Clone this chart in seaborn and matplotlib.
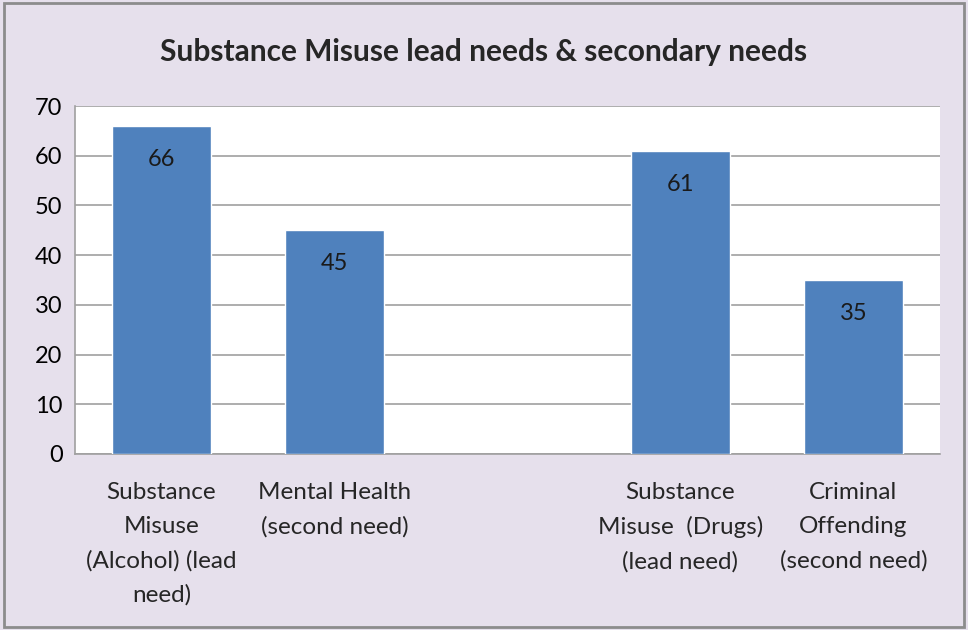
import pandas as pd
import numpy as np
from matplotlib import pyplot as plt
from matplotlib.patches import Rectangle
import seaborn as sns

categories = ['Substance\nMisuse\n(Alcohol) (lead\nneed)',
              'Mental Health\n(second need)',
              'Substance\nMisuse  (Drugs)\n(lead need)',
              'Criminal\nOffending\n(second need)']
values = [66, 45, 61, 35]
# an empty slot sits between the two groups
order = [categories[0], categories[1], ' ', categories[2], categories[3]]

sns.set_style('white')
plt.rcParams['font.family'] = ['Lato', 'DejaVu Sans']

df = pd.DataFrame({'need': categories, 'count': values})

fig = plt.figure(figsize=(9.68, 6.3), dpi=100)
fig.patch.set_facecolor('#E6E0EC')
ax = fig.add_axes([0.0775, 0.2794, 0.8935, 0.5523])

sns.barplot(x='need', y='count', data=df, order=order, color='#4F81BD',
            saturation=1, width=0.57, ax=ax, zorder=3)

ax.set_ylim(0, 70)
ax.set_yticks(range(0, 80, 10))
ax.yaxis.grid(True, color='#A0A0A0', lw=1.2, zorder=0)
ax.set_axisbelow(True)
ax.set_xlabel('')
ax.set_ylabel('')
for s in ['top', 'right']:
    ax.spines[s].set_visible(False)
for s in ['left', 'bottom']:
    ax.spines[s].set_color('#A0A0A0')
    ax.spines[s].set_linewidth(1.2)
ax.tick_params(axis='y', labelsize=17, pad=9, length=0, colors='#000000')
ax.tick_params(axis='x', labelsize=17.5, pad=20, length=0)
for lbl in ax.get_xticklabels():
    lbl.set_linespacing(1.75)
    lbl.set_color('#262626')

for bar, v in zip(ax.patches, values):
    ax.annotate(str(v), (bar.get_x() + bar.get_width() / 2, bar.get_height()),
                xytext=(0, -24), textcoords='offset points',
                ha='center', va='center', fontsize=17, color='#1a1a1a')

fig.text(0.5, 0.918, 'Substance Misuse lead needs & secondary needs',
         ha='center', va='center', fontsize=21.5, fontweight='bold')

fig.patches.append(Rectangle((0.004, 0.005), 0.992, 0.99, transform=fig.transFigure,
                             fill=False, edgecolor='#8c8c8c', lw=2))

plt.savefig('out.png', dpi=100, facecolor=fig.get_facecolor())
